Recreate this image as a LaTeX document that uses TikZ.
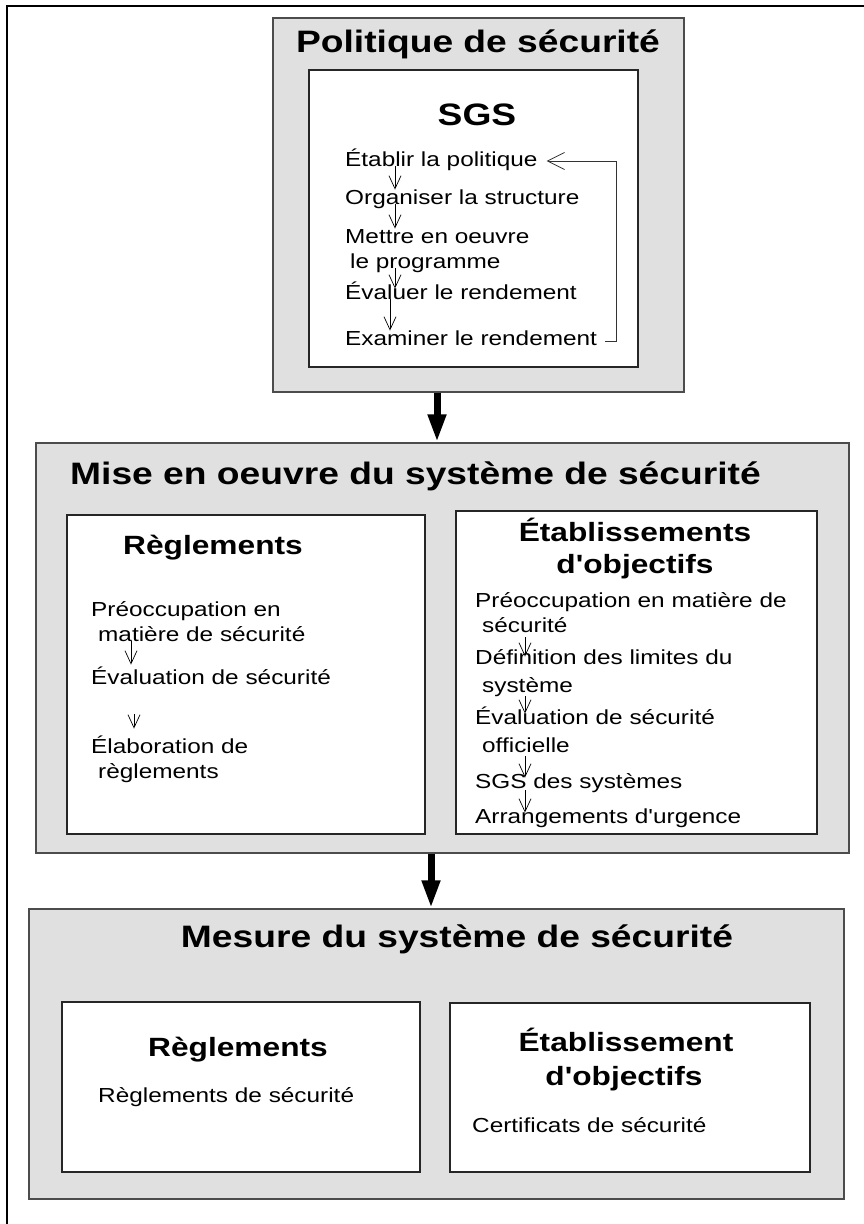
\documentclass[tikz,border=0pt]{standalone}
\usepackage{fontspec}
\setmainfont{Liberation Sans}[FakeStretch=1.2,Ligatures=TeXOff]
\usetikzlibrary{arrows.meta}

\begin{document}
\begin{tikzpicture}[x=1pt,y=-1pt,
  greybox/.style={draw=black!70,fill=black!12,line width=1.3pt,inner sep=0pt},
  whitebox/.style={draw=black!85,fill=white,line width=1.2pt,inner sep=0pt},
  bigtitle/.style={font=\bfseries\fontsize{31}{36}\selectfont,inner sep=0pt,text height=22.3pt,text depth=0pt},
  subtitle/.style={font=\bfseries\fontsize{26.4}{31}\selectfont,inner sep=0pt,text height=18.9pt,text depth=0pt},
  item/.style={font=\fontsize{20.3}{24}\selectfont,inner sep=0pt,text height=14.5pt,text depth=0pt,anchor=west},
  flow/.style={-{Straight Barb[length=13pt,width=12pt]},line width=0.7pt},
  loopback/.style={-{Straight Barb[length=17pt,width=17pt]},line width=0.8pt,draw=black!80},
  bigarrow/.style={-{Triangle[length=28pt,width=17pt]},line width=7pt}]
\useasboundingbox (0,0) rectangle (864,1224);
\draw[line width=2.4pt] (7,1226) -- (7,6) -- (866,6);

% Politique de securite
\node[greybox,minimum width=411pt,minimum height=374pt] (pol) at (478.5,205) {};
\node[whitebox,minimum width=329pt,minimum height=297pt] (sgs) at (473.5,218.5) {};
\node[bigtitle] (poltitle) at (478,41.5) {Politique de sécurité};
\node[bigtitle] (sgstitle) at (477,114) {SGS};
\node[item] (e1) at (345,159) {Établir la politique};
\node[item] (e2) at (345,197) {Organiser la structure};
\node[item] (e3) at (345,236) {Mettre en oeuvre};
\node[item] (e3b) at (350,261) {le programme};
\node[item] (e4) at (345,292) {Évaluer le rendement};
\node[item] (e5) at (345,338) {Examiner le rendement};
\coordinate (ea) at (395,0);
\coordinate (eb) at (390,0);
\coordinate (fb) at (616,0);
\draw[flow] (e1.south -| ea) -- (e2.north -| ea);
\draw[flow] (e2.south -| ea) -- (e3.north -| ea);
\draw[flow] (e3b.south -| ea) -- ([yshift=-4pt]e4.north -| ea);
\draw[flow] (e4.south -| eb) -- (e5.north -| eb);
\draw[loopback] ([xshift=8pt,yshift=-3pt]e5.east) -- ([yshift=-3pt]e5.east -| fb)
  -- ([yshift=-2pt]e1.east -| fb) -- ([xshift=9pt,yshift=-2pt]e1.east);

% Mise en oeuvre
\node[greybox,minimum width=813pt,minimum height=410pt] (mise) at (442.5,648) {};
\node[whitebox,minimum width=358pt,minimum height=319pt] (mreg) at (246,674.5) {};
\node[whitebox,minimum width=361pt,minimum height=323pt] (mobj) at (636.5,672.5) {};
\node[bigtitle] (misetitle) at (415.5,473) {Mise en oeuvre du système de sécurité};
\node[subtitle] (mregtitle) at (213,545) {Règlements};
\node[subtitle] (mobjtitle) at (635,532) {Établissements};
\node[subtitle] (mobjtitleb) at (635,564) {d'objectifs};
\node[item] (l1) at (91,609) {Préoccupation en};
\node[item] (l1b) at (98,634) {matière de sécurité};
\node[item] (l2) at (91,677) {Évaluation de sécurité};
\node[item] (l3) at (91,746) {Élaboration de};
\node[item] (l3b) at (98,771) {règlements};
\coordinate (la) at (131,0);
\coordinate (lb) at (134,0);
\draw[flow] (l1b.south -| la) -- ([yshift=5pt]l2.north -| la);
\draw[flow,shorten <=30pt,shorten >=10pt] (l2.south -| lb) -- (l3.north -| lb);
\node[item] (r1) at (475,600) {Préoccupation en matière de};
\node[item] (r1b) at (482,625) {sécurité};
\node[item] (r2) at (475,657) {Définition des limites du};
\node[item] (r2b) at (482,685) {système};
\node[item] (r3) at (475,717) {Évaluation de sécurité};
\node[item] (r3b) at (482,745) {officielle};
\node[item] (r4) at (475,781) {SGS des systèmes};
\node[item] (r5) at (475,816) {Arrangements d'urgence};
\coordinate (ra) at (525,0);
\draw[flow] ([yshift=-5pt]r1b.south -| ra) -- ([yshift=-7pt]r2.north -| ra);
\draw[flow] ([yshift=-4pt]r2b.south -| ra) -- ([yshift=-4pt]r3.north -| ra);
\draw[flow] ([yshift=-4pt]r3b.south -| ra) -- ([yshift=-4pt]r4.north -| ra);
\draw[flow] ([yshift=-2pt]r4.south -| ra) -- ([yshift=-4pt]r5.north -| ra);

% Mesure
\node[greybox,minimum width=815pt,minimum height=290pt] (mes) at (436.5,1054) {};
\node[whitebox,minimum width=358pt,minimum height=170pt] (sreg) at (241,1087) {};
\node[whitebox,minimum width=360pt,minimum height=169pt] (sobj) at (630,1087.5) {};
\node[bigtitle] (mestitle) at (457,936) {Mesure du système de sécurité};
\node[subtitle] (sregtitle) at (238,1047) {Règlements};
\node[subtitle] (sobjtitle) at (626,1042) {Établissement};
\node[subtitle] (sobjtitleb) at (624,1076) {d'objectifs};
\node[item] (s1) at (98,1095) {Règlements de sécurité};
\node[item] (s2) at (472,1125) {Certificats de sécurité};

% liens
\coordinate (ka) at (437,0);
\coordinate (kb) at (431,0);
\draw[bigarrow] (pol.south -| ka) -- (mise.north -| ka);
\draw[bigarrow] (mise.south -| kb) -- (mes.north -| kb);
\end{tikzpicture}
\end{document}
